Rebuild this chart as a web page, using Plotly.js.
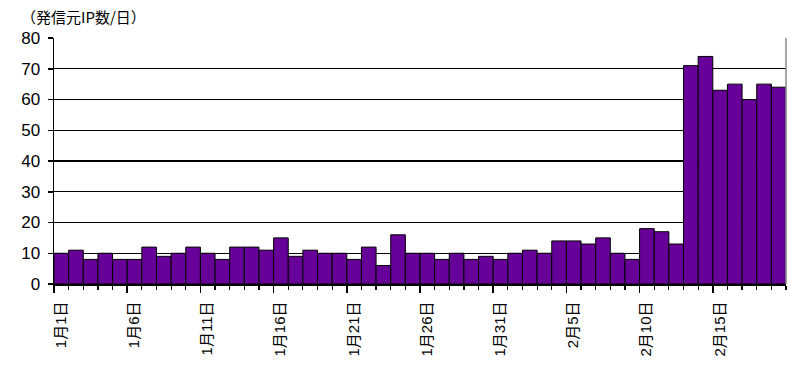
<!DOCTYPE html>
<html>
<head>
<meta charset="utf-8">
<script src="https://cdn.plot.ly/plotly-3.0.1.min.js"></script>
<style>html,body{margin:0;padding:0;background:#fff;}#chart{width:800px;height:374px;}</style>
</head>
<body>
<div id="chart"></div>
<script>
const days = [
  "1月1日","1月2日","1月3日","1月4日","1月5日","1月6日","1月7日","1月8日","1月9日","1月10日",
  "1月11日","1月12日","1月13日","1月14日","1月15日","1月16日","1月17日","1月18日","1月19日","1月20日",
  "1月21日","1月22日","1月23日","1月24日","1月25日","1月26日","1月27日","1月28日","1月29日","1月30日",
  "1月31日","2月1日","2月2日","2月3日","2月4日","2月5日","2月6日","2月7日","2月8日","2月9日",
  "2月10日","2月11日","2月12日","2月13日","2月14日","2月15日","2月16日","2月17日","2月18日","2月19日"
];
const ipCounts = [
  10,11,8,10,8,8,12,9,10,12,
  10,8,12,12,11,15,9,11,10,10,
  8,12,6,16,10,10,8,10,8,9,
  8,10,11,10,14,14,13,15,10,8,
  18,17,13,71,74,63,65,60,65,64
];
const yTicks = [0,10,20,30,40,50,60,70,80];
const yTitle = "（発信元IP数/日）";

const idx = days.map((d, i) => i);
const labelIdx = idx.filter(i => i % 5 === 0);
const labelText = labelIdx.map(i => days[i]);
const majorBounds = labelIdx.map(i => i - 0.5);

const fontFam = "Liberation Sans, Arial, 'Noto Sans CJK JP', sans-serif";

const traces = [
  {
    type: "bar",
    x: idx,
    y: ipCounts,
    marker: {color: "#660099", line: {color: "#000", width: 1}},
    hoverinfo: "skip"
  }
];

const layout = {
  width: 800, height: 374,
  margin: {l: 54, r: 14, t: 38, b: 90},
  paper_bgcolor: "#fff", plot_bgcolor: "#fff",
  showlegend: false,
  bargap: 0,
  font: {family: fontFam, color: "#000"},
  xaxis: {
    range: [-0.5, days.length - 0.5],
    tickmode: "array",
    tickvals: majorBounds,
    ticktext: labelText,
    tickangle: -90,
    ticks: "outside", ticklen: 7, tickwidth: 1.5, tickcolor: "#000",
    minor: {tick0: -0.5, dtick: 1, ticks: "outside", ticklen: 4, tickwidth: 1.2, tickcolor: "#000"},
    ticklabelshift: 7,
    ticklabelstandoff: 3,
    tickfont: {size: 15, family: fontFam, color: "#000"},
    showline: true, linecolor: "#000", linewidth: 1.5,
    showgrid: false, zeroline: false, fixedrange: true
  },
  yaxis: {
    range: [0, 80],
    tickmode: "array",
    tickvals: yTicks,
    ticks: "outside", ticklen: 5, tickwidth: 1.5, tickcolor: "#000",
    ticklabelstandoff: 4,
    tickfont: {size: 17, family: fontFam, color: "#000"},
    showline: true, linecolor: "#000", linewidth: 1.5,
    showgrid: true, gridcolor: "#000", gridwidth: 1.2,
    zeroline: false, fixedrange: true
  },
  shapes: [
    {type: "line", xref: "paper", yref: "paper", x0: 1, x1: 1, y0: 0, y1: 1,
     line: {color: "#888", width: 1.5}}
  ],
  annotations: [
    {text: yTitle, xref: "paper", yref: "paper", x: -0.048, y: 1, xanchor: "left", yanchor: "bottom",
     yshift: 9, showarrow: false, font: {size: 15, family: "'Noto Sans CJK JP', sans-serif", color: "#000"}}
  ]
};

Plotly.newPlot("chart", traces, layout, {displayModeBar: false, staticPlot: true});
</script>
</body>
</html>
